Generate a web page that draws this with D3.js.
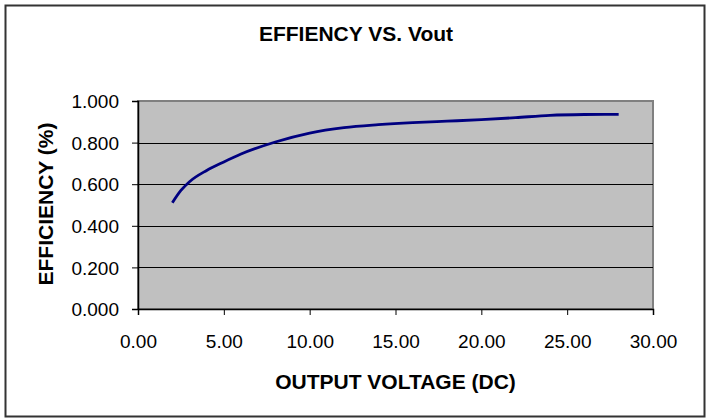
<!DOCTYPE html>
<html>
<head>
<meta charset="utf-8">
<script src="https://cdn.jsdelivr.net/npm/d3@7"></script>
<style>
    body { margin: 0; background: #fff; }
    text { font-family: "Liberation Sans", Arial, sans-serif; fill: #000; }
</style>
</head>
<body>
<svg width="712" height="419"></svg>
<script>
// output voltage (V) and measured efficiency
var vout = [2, 2.5, 3, 4, 5, 6, 8, 10, 12, 14, 16, 18, 20, 22, 24, 26, 28];
var efficiency = [0.511, 0.570, 0.612, 0.666, 0.707, 0.745, 0.803, 0.846, 0.872, 0.886, 0.896, 0.903, 0.910, 0.920, 0.931, 0.935, 0.936];
var xTicks = [0, 5, 10, 15, 20, 25, 30];
var yTicks = [0, 0.2, 0.4, 0.6, 0.8, 1.0];

var data = vout.map(function (v, i) { return { v: v, e: efficiency[i] }; });

var svg = d3.select("svg");
var margin = { top: 101, right: 59, bottom: 110, left: 138 };
var width = +svg.attr("width") - margin.left - margin.right;
var height = +svg.attr("height") - margin.top - margin.bottom;

// outer chart border
svg.append("rect")
    .attr("x", 5.5)
    .attr("y", 5.5)
    .attr("width", 699)
    .attr("height", 411)
    .attr("fill", "#fff")
    .attr("stroke", "#333")
    .attr("stroke-width", 2);

svg.append("text")
    .attr("x", 356)
    .attr("y", 41)
    .attr("text-anchor", "middle")
    .style("font-size", "21px")
    .style("font-weight", "bold")
    .text("EFFIENCY VS. Vout");

var g = svg.append("g").attr("transform", "translate(" + margin.left + "," + margin.top + ")");

var xScale = d3.scaleLinear().domain([0, 30]).range([0, width]);
var yScale = d3.scaleLinear().domain([0, 1]).range([height, 0]);

// plot area
g.append("rect")
    .attr("width", width)
    .attr("height", height)
    .attr("fill", "#c0c0c0")
    .attr("stroke", "#808080")
    .attr("stroke-width", 2);

g.selectAll(".grid").data(yTicks.slice(1, 5)).enter().append("line")
    .attr("class", "grid")
    .attr("x1", 0)
    .attr("x2", width)
    .attr("y1", function (d) { return Math.round(yScale(d)) + 0.5; })
    .attr("y2", function (d) { return Math.round(yScale(d)) + 0.5; })
    .attr("stroke", "#000")
    .attr("stroke-width", 1);

var xAxis = g.append("g")
    .attr("transform", "translate(0," + height + ")")
    .call(d3.axisBottom(xScale).tickValues(xTicks).tickSize(6).tickPadding(26)
        .tickFormat(d3.format(".2f")));

var yAxis = g.append("g")
    .call(d3.axisLeft(yScale).tickValues(yTicks).tickSize(6).tickPadding(13)
        .tickFormat(d3.format(".3f")));

[xAxis, yAxis].forEach(function (a) {
    a.selectAll("text")
        .style("font-size", "19px")
        .style("font-family", "'Liberation Sans', Arial, sans-serif");
    a.selectAll("line").attr("stroke", "#000");
    a.select(".domain").attr("stroke", "#000").attr("stroke-width", 1.5);
});
xAxis.selectAll("text").attr("dy", "0.35em");
yAxis.selectAll("text").attr("dy", "0.35em");

var line = d3.line()
    .x(function (d) { return xScale(d.v); })
    .y(function (d) { return yScale(d.e); })
    .curve(d3.curveMonotoneX);

g.append("path")
    .attr("d", line(data))
    .attr("fill", "none")
    .attr("stroke", "#000080")
    .attr("stroke-width", 2.8);

svg.append("text")
    .attr("x", margin.left + width / 2)
    .attr("y", 389)
    .attr("text-anchor", "middle")
    .style("font-size", "21px")
    .style("font-weight", "bold")
    .text("OUTPUT VOLTAGE (DC)");

svg.append("text")
    .attr("transform", "translate(53,204) rotate(-90)")
    .attr("text-anchor", "middle")
    .style("font-size", "21px")
    .style("font-weight", "bold")
    .text("EFFICIENCY (%)");
</script>
</body>
</html>
